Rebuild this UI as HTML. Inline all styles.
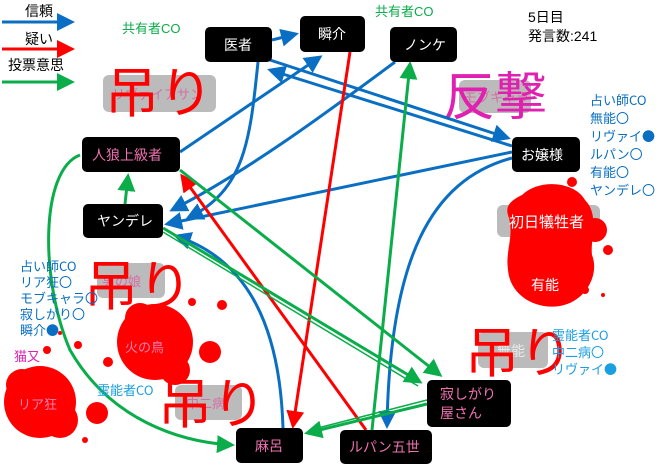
<!DOCTYPE html>
<html><head><meta charset="utf-8"><style>
html,body{margin:0;padding:0;background:#fff;}
body{width:660px;height:466px;overflow:hidden;position:relative;font-family:"Liberation Sans","Noto Sans CJK JP",sans-serif;}
</style></head><body>
<svg width="660" height="466" viewBox="0 0 660 466" xmlns="http://www.w3.org/2000/svg" style="position:absolute;left:0;top:0" font-family="Liberation Sans, Noto Sans CJK JP, sans-serif">
<defs>
<marker id="ab" markerWidth="6" markerHeight="6" refX="5" refY="3" orient="auto" markerUnits="strokeWidth"><path d="M0,0 L6,3 L0,6 z" fill="#0a6fc2"/></marker>
<marker id="ar" markerWidth="6" markerHeight="6" refX="5" refY="3" orient="auto" markerUnits="strokeWidth"><path d="M0,0 L6,3 L0,6 z" fill="#f00"/></marker>
<marker id="ag" markerWidth="6" markerHeight="6" refX="5" refY="3" orient="auto" markerUnits="strokeWidth"><path d="M0,0 L6,3 L0,6 z" fill="#0aad4a"/></marker>
</defs>
<g fill="#bbb">
<rect x="103" y="75" width="113" height="37" rx="6"/>
<rect x="459" y="80" width="72" height="33" rx="6"/>
<rect x="497" y="205" width="103" height="32" rx="6"/>
<rect x="97" y="263" width="68" height="35" rx="6"/>
<rect x="175" y="385" width="67" height="35" rx="6"/>
<rect x="478" y="332" width="70" height="36" rx="6"/>
</g>
<g fill="#e0509a" font-size="13" opacity="0.7">
<text x="112" y="99">リヴァイアサン</text>
<text x="464" y="102">モブキャラ</text>
<text x="102" y="286">男の娘</text>
<text x="186" y="408">中二病</text>
</g>
<text x="497" y="356" fill="#fff" font-size="14" opacity="0.7">無能</text>
<g fill="#f00">
<path d="M522,195 C540,178 575,182 585,200 C600,215 590,240 592,255 C600,275 585,302 560,306 C535,310 510,295 508,270 C505,250 515,235 508,215 C505,205 512,200 522,195 Z"/>
<circle cx="546" cy="268" r="35"/>
<circle cx="595" cy="230" r="12"/><circle cx="608" cy="250" r="5"/><circle cx="572" cy="182" r="5"/><circle cx="585" cy="290" r="4"/><circle cx="603" cy="295" r="2"/>
<circle cx="155" cy="342" r="38"/><circle cx="140" cy="318" r="15"/><circle cx="175" cy="370" r="15"/>
<circle cx="210" cy="352" r="11"/><circle cx="222" cy="305" r="5"/><circle cx="192" cy="302" r="4"/><circle cx="108" cy="362" r="5"/><circle cx="78" cy="345" r="4"/><circle cx="60" cy="333" r="2"/>
<circle cx="40" cy="402" r="36"/><circle cx="22" cy="385" r="16"/><circle cx="60" cy="420" r="18"/>
<circle cx="97" cy="413" r="11"/><circle cx="85" cy="440" r="3"/><circle cx="47" cy="350" r="4"/>
</g>
<text x="125" y="352" fill="#f080b0" font-size="13">火の鳥</text>
<text x="18" y="409" fill="#f080b0" font-size="13">リア狂</text>
<text x="509" y="227" fill="#fff" font-size="15">初日犠牲者</text>
<text x="531" y="290" fill="#fff" font-size="14">有能</text>
<g fill="#f00" font-size="54">
<text x="105" y="112">吊り</text>
<text x="84" y="305">吊り</text>
<text x="158" y="423">吊り</text>
<text x="465" y="372">吊り</text>
</g>
<text x="443" y="115" fill="#e020b0" font-size="52">反撃</text>
<g fill="none" stroke-width="3">
<path d="M272,40 L296,34" stroke="#0a6fc2" marker-end="url(#ab)"/>
<path d="M180,152 L320,57" stroke="#0a6fc2" marker-end="url(#ab)"/>
<path d="M258,62 C250,140 245,190 188,218" stroke="#0a6fc2" marker-end="url(#ab)"/>
<path d="M395,62 C330,110 250,170 172,210" stroke="#0a6fc2" marker-end="url(#ab)"/>
<path d="M512,146 L270,70" stroke="#0a6fc2" marker-end="url(#ab)"/>
<path d="M270,60 L508,138" stroke="#0a6fc2" marker-end="url(#ab)"/>
<path d="M512,152 L167,224" stroke="#0a6fc2" marker-end="url(#ab)"/>
<path d="M512,158 C430,180 390,260 387,426" stroke="#0a6fc2" marker-end="url(#ab)"/>
<path d="M283,428 C280,330 250,260 176,236" stroke="#0a6fc2" marker-end="url(#ab)"/>
<path d="M350,52 L293,426" stroke="#f00" marker-end="url(#ar)"/>
<path d="M366,430 L182,176" stroke="#f00" marker-end="url(#ar)"/>
<path d="M125,204 L128,176" stroke="#0aad4a" marker-end="url(#ag)"/>
<path d="M80,155 C40,170 40,280 70,350 C110,420 180,442 232,445" stroke="#0aad4a" marker-end="url(#ag)"/>
<path d="M180,170 L440,375" stroke="#0aad4a" marker-end="url(#ag)"/>
<path d="M163,228 L420,382" stroke="#0aad4a" marker-end="url(#ag)"/>
<path d="M163,232 L418,386" stroke="#0aad4a" stroke-width="1.5"/>
<path d="M372,430 L410,64" stroke="#0aad4a" marker-end="url(#ag)"/>
<path d="M427,404 L307,433" stroke="#0aad4a" marker-end="url(#ag)"/>
<path d="M427,400 L310,430" stroke="#0aad4a" stroke-width="1.5"/>
<path d="M2,22 L72,22" stroke="#0a6fc2" marker-end="url(#ab)"/>
<path d="M2,49 L72,49" stroke="#f00" marker-end="url(#ar)"/>
<path d="M2,82 L72,82" stroke="#0aad4a" marker-end="url(#ag)"/>
</g>
<g font-size="14" fill="#000">
<text x="25" y="16">信頼</text>
<text x="25" y="44">疑い</text>
<text x="8" y="70">投票意思</text>
<text x="528" y="22">5日目</text>
<text x="528" y="41">発言数:241</text>
</g>
<g font-size="13" fill="#0aad4a">
<text x="122" y="33">共有者CO</text>
<text x="375" y="16">共有者CO</text>
</g>
<g font-size="13" fill="#0a6fc2" font-family="Noto Sans CJK JP, sans-serif">
<text x="590" y="105">占い師CO</text>
<text x="590" y="123">無能〇</text>
<text x="590" y="141">リヴァイ●</text>
<text x="590" y="159">ルパン〇</text>
<text x="590" y="177">有能〇</text>
<text x="590" y="195">ヤンデレ〇</text>
<text x="20" y="271">占い師CO</text>
<text x="20" y="287">リア狂〇</text>
<text x="20" y="303">モブキャラ〇</text>
<text x="20" y="319">寂しがり〇</text>
<text x="20" y="335">瞬介●</text>
</g>
<g font-size="13" fill="#1aa0e0" font-family="Noto Sans CJK JP, sans-serif">
<text x="97" y="395">霊能者CO</text>
<text x="552" y="340">霊能者CO</text>
<text x="552" y="357">中二病〇</text>
<text x="552" y="374">リヴァイ●</text>
</g>
<text x="14" y="361" fill="#e020b0" font-size="13">猫又</text>
<g fill="#000">
<rect x="205" y="27" width="67" height="35" rx="5"/>
<rect x="300" y="16" width="65" height="36" rx="5"/>
<rect x="390" y="27" width="67" height="35" rx="5"/>
<rect x="512" y="137" width="68" height="35" rx="5"/>
<rect x="82" y="137" width="98" height="35" rx="5"/>
<rect x="83" y="204" width="80" height="34" rx="5"/>
<rect x="427" y="380" width="84" height="47" rx="5"/>
<rect x="340" y="430" width="92" height="34" rx="5"/>
<rect x="236" y="428" width="67" height="35" rx="5"/>
</g>
<g font-size="14" fill="#fff">
<text x="224" y="50">医者</text>
<text x="318" y="39">瞬介</text>
<text x="404" y="50">ノンケ</text>
<text x="521" y="160">お嬢様</text>
<text x="97" y="226">ヤンデレ</text>
</g>
<g font-size="14" fill="#f070b0">
<text x="92" y="160">人狼上級者</text>
<text x="440" y="399">寂しがり</text>
<text x="440" y="418">屋さん</text>
<text x="349" y="452">ルパン五世</text>
<text x="255" y="451">麻呂</text>
</g>
</svg>
</body></html>
